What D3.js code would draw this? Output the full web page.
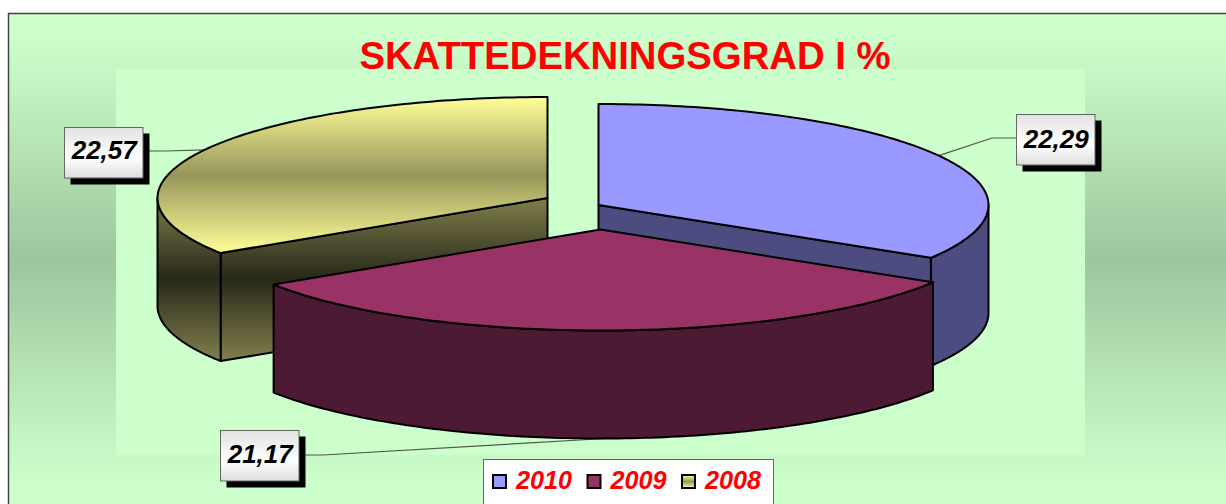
<!DOCTYPE html>
<html>
<head>
<meta charset="utf-8">
<script src="https://cdn.jsdelivr.net/npm/d3@7"></script>
<style>
html,body{margin:0;padding:0;background:#fff;overflow:hidden}
svg{display:block}
text{font-family:"Liberation Sans",Arial,sans-serif}
</style>
</head>
<body>
<div id="chart"></div>
<script>
const titleText = "SKATTEDEKNINGSGRAD I %";
const categories = ["2010", "2009", "2008"];
const values = [22.29, 21.17, 22.57];
const valueLabels = ["22,29", "21,17", "22,57"];
const topFills = ["#9999FF", "#993366", "url(#yellowTop)"];
const sideFills = ["#4C4C80", "#4D1A33", "url(#yellowSide)"];
const swatchFills = ["#9999FF", "#993366", "url(#yellowSwatch)"];

const W = 1226, H = 504;
const svg = d3.select("#chart").append("svg").attr("width", W).attr("height", H);
const defs = svg.append("defs");

function grad(id, stops, attrs) {
  const g = defs.append("linearGradient").attr("id", id).attr("x1", 0).attr("x2", 0).attr("y1", 0).attr("y2", 1);
  if (attrs) Object.entries(attrs).forEach(([k, v]) => g.attr(k, v));
  stops.forEach(([o, c]) => g.append("stop").attr("offset", o).attr("stop-color", c));
}
grad("bg", [[0, "#CCFFCC"], [0.5, "#9DC69D"], [1, "#CCFFCC"]],
  {gradientUnits: "userSpaceOnUse", x1: 0, x2: 0, y1: 40, y2: 480});
grad("yellowTop", [[0, "#FFFF99"], [0.5, "#96965A"], [1, "#FFFF99"]],
  {gradientUnits: "userSpaceOnUse", x1: 0, x2: 0, y1: 97, y2: 253});
grad("yellowSide", [[0, "#807F4C"], [0.5, "#28281A"], [1, "#807F4C"]],
  {gradientUnits: "userSpaceOnUse", x1: 0, x2: 0, y1: 197, y2: 360});
grad("yellowSwatch", [[0, "#FFFF99"], [0.5, "#96965A"], [1, "#FFFF99"]]);
grad("box", [[0, "#E2E2E2"], [0.6, "#FFFFFF"], [1, "#DDDDDD"]]);

// chart area and plot area
svg.append("rect").attr("x", 8.5).attr("y", 13.5).attr("width", W + 20).attr("height", H + 20)
  .attr("fill", "url(#bg)").attr("stroke", "#444").attr("stroke-width", 1.5);
svg.append("rect").attr("x", 116).attr("y", 69).attr("width", 969).attr("height", 386).attr("fill", "#CCFFCC");

// title
svg.append("text").attr("x", 625).attr("y", 69).attr("text-anchor", "middle")
  .attr("font-size", 38.3).attr("font-weight", "bold").attr("fill", "#FF0000").text(titleText);

// exploded 3D pie: a flat pie squashed by two linear scales
const pieLayout = d3.pie().sort(null).value(d => d)(values);
const radiusX = d3.scaleLinear().domain([-1, 1]).range([-390, 390]);
const radiusY = d3.scaleLinear().domain([-1, 1]).range([-101, 101]);
const depth = 108;
const centres = [[598.5, 205], [600.5, 229.5], [547.5, 198]];

const project = (i, a, drop = 0) => [
  centres[i][0] + radiusX(Math.sin(a)),
  centres[i][1] - radiusY(Math.cos(a)) + drop
];
const arcPoints = (i, a0, a1, drop = 0) => d3.range(0, 121).map(k => project(i, a0 + (a1 - a0) * k / 120, drop));
const line = d3.line();
const closed = pts => line(pts) + "Z";

// leader lines sit under the pie, starting at each slice's middle angle
const boxes = [
  {x: 1016.5, y: 114.5, bend: [992, 138], end: [1017, 138], base: 148},
  {x: 220.5, y: 430.5, bend: [323, 455], end: [299, 455], base: 463, drop: true},
  {x: 64.5, y: 127.5, bend: [166, 151], end: [143, 151], base: 159}
];
const boxW = 78.5, boxH = 50.5;
const leaders = svg.append("g");
pieLayout.forEach((s, i) => {
  const mid = (s.startAngle + s.endAngle) / 2;
  const start = project(i, mid, boxes[i].drop ? depth : 0);
  leaders.append("path").attr("d", line([start, boxes[i].bend, boxes[i].end]))
    .attr("fill", "none").attr("stroke", "#4A5A4A").attr("stroke-width", 1.2);
});

const pieG = svg.append("g").attr("stroke", "#000").attr("stroke-width", 2).attr("stroke-linejoin", "round");
[2, 0, 1].forEach(i => {
  const s = pieLayout[i], a0 = s.startAngle, a1 = s.endAngle;
  const q = Math.PI / 2, q3 = 3 * Math.PI / 2;
  // radial cut faces that look towards the viewer
  if (a1 > q && a1 < Math.PI) {
    const c = project(i, a1), c0 = centres[i];
    pieG.append("path").attr("fill", sideFills[i])
      .attr("d", closed([c0, c, [c[0], c[1] + depth], [c0[0], c0[1] + depth]]));
  }
  if (a0 > Math.PI && a0 < q3) {
    const c = project(i, a0), c0 = centres[i];
    pieG.append("path").attr("fill", sideFills[i])
      .attr("d", closed([c0, c, [c[0], c[1] + depth], [c0[0], c0[1] + depth]]));
  }
  // outer wall: only the front half of the rim shows
  const w0 = Math.max(a0, q), w1 = Math.min(a1, q3);
  if (w1 > w0) {
    pieG.append("path").attr("fill", sideFills[i])
      .attr("d", closed(arcPoints(i, w0, w1).concat(arcPoints(i, w1, w0, depth))));
  }
  // top face
  pieG.append("path").attr("fill", topFills[i])
    .attr("d", closed([centres[i]].concat(arcPoints(i, a0, a1))));
});

// value labels
boxes.forEach((b, i) => {
  const g = svg.append("g");
  g.append("rect").attr("x", b.x + 6).attr("y", b.y + 6).attr("width", boxW + 0.5).attr("height", boxH + 0.5).attr("fill", "#000");
  g.append("rect").attr("x", b.x).attr("y", b.y).attr("width", boxW).attr("height", boxH)
    .attr("fill", "url(#box)").attr("stroke", "#666").attr("stroke-width", 1);
  g.append("text").attr("x", b.x + boxW / 2 + 0.5).attr("y", b.base).attr("text-anchor", "middle")
    .attr("font-size", 26).attr("font-weight", "bold").attr("font-style", "italic").attr("fill", "#000").text(valueLabels[i]);
});

// legend
const legend = svg.append("g");
legend.append("rect").attr("x", 483.5).attr("y", 459.5).attr("width", 290).attr("height", 70)
  .attr("fill", "#fff").attr("stroke", "#666").attr("stroke-width", 1);
const legendX = d3.scalePoint().domain(categories).range([492, 681]);
categories.forEach((c, i) => {
  const x = legendX(c);
  legend.append("rect").attr("x", x + 1).attr("y", 475).attr("width", 13).attr("height", 13)
    .attr("fill", swatchFills[i]).attr("stroke", "#000").attr("stroke-width", 2);
  legend.append("text").attr("x", x + 24).attr("y", 489)
    .attr("font-size", 25.2).attr("font-weight", "bold").attr("font-style", "italic").attr("fill", "#FF0000").text(c);
});
</script>
</body>
</html>
